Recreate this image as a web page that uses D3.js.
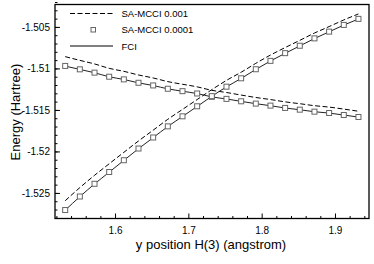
<html>
<script src="https://d3js.org/d3.v7.min.js"></script>
<style>
  body { margin: 0; background: white; }
  text { font-family: "Liberation Sans", Arial, sans-serif; fill: black; }
</style>
<body>
<svg id="chart" width="374" height="264"></svg>
<script>
// y position H(3), angstrom
var xPos = [1.532, 1.552, 1.572, 1.592, 1.612, 1.632, 1.652, 1.672, 1.692, 1.712, 1.732,
            1.752, 1.772, 1.792, 1.812, 1.832, 1.852, 1.872, 1.892, 1.912, 1.932];

// FCI, state going down
var fciDown = [-1.50972, -1.51012, -1.51052, -1.51101, -1.51133, -1.51174, -1.51206, -1.51246,
               -1.51275, -1.51303, -1.51343, -1.51368, -1.51397, -1.51425, -1.51449, -1.51477,
               -1.51498, -1.51522, -1.51538, -1.51562, -1.51586];
// FCI, state going up
var fciUp = [-1.52708, -1.52545, -1.52392, -1.52250, -1.52108, -1.51967, -1.51834, -1.51700,
             -1.51579, -1.51458, -1.51336, -1.51222, -1.51121, -1.51012, -1.50911, -1.50818,
             -1.50729, -1.50640, -1.50559, -1.50478, -1.50405];

// SA-MCCI 0.0001 (squares)
var mcci4Down = [-1.50970, -1.51011, -1.51051, -1.51100, -1.51132, -1.51173, -1.51205, -1.51245,
                 -1.51274, -1.51302, -1.51342, -1.51367, -1.51396, -1.51424, -1.51448, -1.51476,
                 -1.51497, -1.51521, -1.51537, -1.51561, -1.51585];
var mcci4Up = [-1.52706, -1.52543, -1.52390, -1.52248, -1.52106, -1.51965, -1.51832, -1.51698,
               -1.51577, -1.51456, -1.51334, -1.51220, -1.51119, -1.51010, -1.50909, -1.50816,
               -1.50727, -1.50638, -1.50557, -1.50476, -1.50403];

// SA-MCCI 0.001 (dashed)
var mcci3Down = [-1.50858, -1.50903, -1.50946, -1.50999, -1.51035, -1.51079, -1.51115, -1.51159,
                 -1.51191, -1.51222, -1.51264, -1.51290, -1.51321, -1.51350, -1.51375, -1.51403,
                 -1.51425, -1.51449, -1.51466, -1.51490, -1.51516];
var mcci3Up = [-1.52594, -1.52436, -1.52288, -1.52149, -1.52011, -1.51874, -1.51744, -1.51613,
               -1.51494, -1.51375, -1.51256, -1.51144, -1.51046, -1.50939, -1.50839, -1.50749,
               -1.50662, -1.50574, -1.50496, -1.50416, -1.50344];

var xTicks = [1.6, 1.7, 1.8, 1.9];
var xTickLabels = ["1.6", "1.7", "1.8", "1.9"];
var yTicks = [-1.525, -1.52, -1.515, -1.51, -1.505];
var yTickLabels = ["-1.525", "-1.52", "-1.515", "-1.51", "-1.505"];
var legendNames = ["SA-MCCI 0.001", "SA-MCCI 0.0001", "FCI"];

var pLeft = 55, pTop = 4.5, pRight = 369, pBottom = 218.5;

var x = d3.scaleLinear().domain([1.5181, 1.9464]).range([pLeft, pRight]);
var y = d3.scaleLinear().domain([-1.52808, -1.5023]).range([pBottom, pTop]);

var svg = d3.select("#chart");

// minor ticks
var xMinor = d3.range(1.52, 1.946, 0.02).filter(function(d) { return Math.abs(d * 10 - Math.round(d * 10)) > 0.01; });
var yMinor = d3.range(-1.528, -1.502, 0.001);

svg.append("g")
  .attr("transform", "translate(0," + pBottom + ")")
  .call(d3.axisBottom(x).tickValues(xMinor).tickSize(-2.5).tickFormat(""));
svg.append("g")
  .attr("transform", "translate(" + pLeft + ",0)")
  .call(d3.axisLeft(y).tickValues(yMinor).tickSize(-2.5).tickFormat(""));

svg.append("g")
  .attr("transform", "translate(0," + pBottom + ")")
  .call(d3.axisBottom(x).tickValues(xTicks).tickSizeInner(-5).tickSizeOuter(0).tickPadding(8)
    .tickFormat(function(d, i) { return xTickLabels[i]; }));
svg.append("g")
  .attr("transform", "translate(" + pLeft + ",0)")
  .call(d3.axisLeft(y).tickValues(yTicks).tickSizeInner(-5).tickSizeOuter(0).tickPadding(5)
    .tickFormat(function(d, i) { return yTickLabels[i]; }));

svg.selectAll(".tick text").style("font-size", "10px").style("font-family", "Liberation Sans, Arial, sans-serif");
svg.selectAll(".tick line").attr("stroke", "black");
svg.selectAll(".domain").remove();

// frame
svg.append("rect")
  .attr("x", pLeft).attr("y", pTop)
  .attr("width", pRight - pLeft).attr("height", pBottom - pTop)
  .attr("fill", "none").attr("stroke", "black").attr("stroke-width", 1.3);

function series(vals) {
  return vals.map(function(v, i) { return [xPos[i], v]; });
}
var line = d3.line()
  .x(function(d) { return x(d[0]); })
  .y(function(d) { return y(d[1]); })
  .curve(d3.curveMonotoneX);

[mcci3Down, mcci3Up].forEach(function(s) {
  svg.append("path").datum(series(s)).attr("d", line)
    .attr("fill", "none").attr("stroke", "black").attr("stroke-width", 1)
    .attr("stroke-dasharray", "5,2.5");
});
[fciDown, fciUp].forEach(function(s) {
  svg.append("path").datum(series(s)).attr("d", line)
    .attr("fill", "none").attr("stroke", "#222").attr("stroke-width", 1);
});
[mcci4Down, mcci4Up].forEach(function(s) {
  svg.append("g").selectAll("rect")
    .data(series(s))
    .enter().append("rect")
    .attr("x", function(d) { return x(d[0]) - 2.5; })
    .attr("y", function(d) { return y(d[1]) - 2.5; })
    .attr("width", 5).attr("height", 5)
    .attr("fill", "white").attr("stroke", "#666").attr("stroke-width", 1);
});

// legend
var lg = svg.append("g");
lg.append("line").attr("x1", 70).attr("x2", 113).attr("y1", 13.5).attr("y2", 13.5)
  .attr("stroke", "black").attr("stroke-dasharray", "5,2.5");
lg.append("rect").attr("x", 91).attr("y", 27.5).attr("width", 4.5).attr("height", 4.5)
  .attr("fill", "white").attr("stroke", "#666");
lg.append("line").attr("x1", 70).attr("x2", 113).attr("y1", 46).attr("y2", 46)
  .attr("stroke", "black");
lg.selectAll("text").data(legendNames).enter().append("text")
  .attr("x", 121.5)
  .attr("y", function(d, i) { return [17, 33, 49.5][i]; })
  .style("font-size", "9.5px")
  .text(function(d) { return d; });

// axis titles
svg.append("text")
  .attr("x", (pLeft + pRight) / 2 - 1).attr("y", 249)
  .attr("text-anchor", "middle")
  .style("font-size", "13px")
  .text("y position H(3) (angstrom)");
svg.append("text")
  .attr("transform", "translate(19.5," + 112 + ") rotate(-90)")
  .attr("text-anchor", "middle")
  .style("font-size", "13px")
  .text("Energy (Hartree)");
</script>
</body>
</html>
